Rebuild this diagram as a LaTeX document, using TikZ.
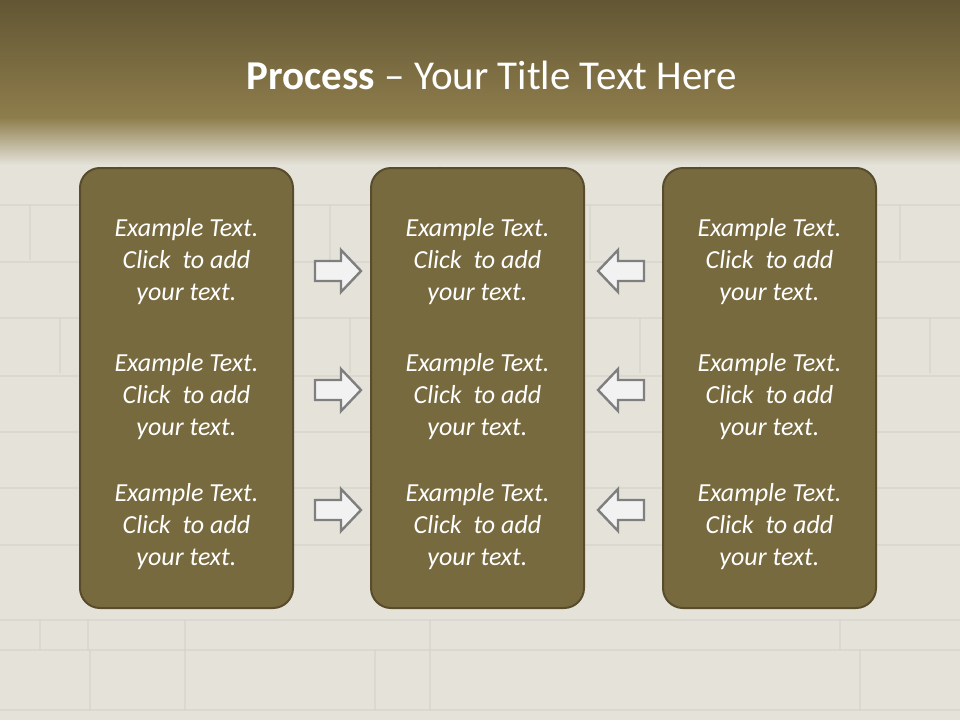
\documentclass[tikz,border=0pt]{standalone}
\usepackage{fontspec}
\setmainfont{Carlito}
\definecolor{wall}{HTML}{E4E2D9}
\definecolor{hdtop}{HTML}{625634}
\definecolor{hdbot}{HTML}{8E7D4C}
\definecolor{boxfill}{HTML}{786A3F}
\definecolor{boxline}{HTML}{584C2C}
\definecolor{arrfill}{HTML}{F2F2F2}
\definecolor{arrline}{HTML}{7F7F7F}
\definecolor{brick}{HTML}{D5D3C9}
\tikzset{
  panel/.style={draw=boxline, line width=2pt, fill=boxfill, rounded corners=20pt, minimum width=213pt, minimum height=440pt, inner sep=0pt},
  txt/.style={text=white, align=center, font=\fontsize{26}{32}\selectfont\itshape},
  arr/.style={draw=arrline, fill=arrfill, line width=2.4pt, line join=miter},
}
\newcommand{\ex}{Example Text.\\Click\ \ to add\\your text.}
\begin{document}
\begin{tikzpicture}[x=1pt,y=-1pt]
\useasboundingbox (0,0) rectangle (960,720);
% background
\fill[wall] (0,0) rectangle (960,720);
\begin{scope}[brick, line width=2pt, opacity=0.6]
  \foreach \y in {150,205,262,318,376,432,488,545,620,650,710} \draw (0,\y) -- (960,\y);
  \foreach \y/\x in {150/120,150/440,150/700,205/30,205/330,205/590,205/900,262/210,262/520,262/810,318/60,318/350,318/640,318/930,376/180,376/470,376/760,432/90,432/400,432/690,488/240,488/540,488/860,545/130,545/420,545/720}
    \draw (\x,\y) -- (\x,\y+55);
  \foreach \x in {40,88,185,430,840} \draw (\x,620) -- (\x,650);
  \foreach \x in {90,185,375,430,860} \draw (\x,650) -- (\x,710);
\end{scope}
\shade[top color=hdtop, bottom color=hdbot] (0,0) rectangle (960,118);
\shade[top color=hdbot, bottom color=wall] (0,117.5) rectangle (960,165);
% title
\node[text=white, font=\fontsize{41}{48}\selectfont] (title) at (492,75) {\textbf{Process} -- Your Title Text Here};
% panels
\node[panel] (p1) at (186.5,388) {};
\node[panel] (p2) at (477.5,388) {};
\node[panel] (p3) at (769.5,388) {};
% texts
\foreach \p/\x in {1/186.5,2/477.5,3/769.5}{
  \foreach \r/\y in {a/262,b/397,c/527}{
    \node[txt] (t\p\r) at (\x,\y) {\ex};
  }
}
% arrows
\foreach \i/\y in {1/271,2/390,3/510}{
  \coordinate (ra\i) at (338,\y);
  \draw[arr] ([shift={(-23,-10)}]ra\i) -- ++(26,0) -- ++(0,-11) -- ([shift={(23,0)}]ra\i) -- ([shift={(3,21)}]ra\i) -- ++(0,-11) -- ([shift={(-23,10)}]ra\i) -- cycle;
  \coordinate (la\i) at (621,\y);
  \draw[arr] ([shift={(23,-10)}]la\i) -- ++(-26,0) -- ++(0,-11) -- ([shift={(-23,0)}]la\i) -- ([shift={(-3,21)}]la\i) -- ++(0,-11) -- ([shift={(23,10)}]la\i) -- cycle;
}
\end{tikzpicture}
\end{document}
